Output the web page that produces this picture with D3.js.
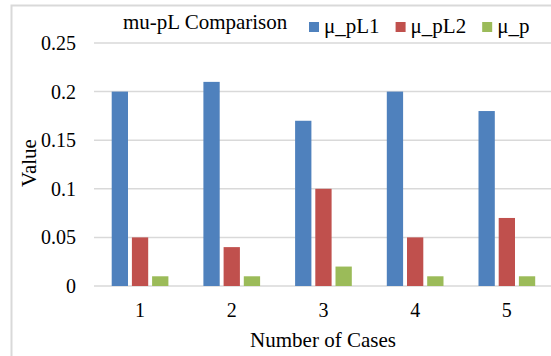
<!DOCTYPE html>
<html>
<head>
<meta charset="utf-8">
<script src="https://cdn.jsdelivr.net/npm/d3@7"></script>
<style>
  body { margin: 0; background: #fff; }
  text { font-family: "Liberation Serif", "Times New Roman", serif; fill: #000; }
</style>
</head>
<body>
<div id="canvas"></div>
<script>
const W = 551, H = 356;

const cases = ["1", "2", "3", "4", "5"];
const seriesNames = ["μ_pL1", "μ_pL2", "μ_p"];
const muPL1 = [0.20, 0.21, 0.17, 0.20, 0.18];
const muPL2 = [0.05, 0.04, 0.10, 0.05, 0.07];
const muP = [0.01, 0.01, 0.02, 0.01, 0.01];
const yTicks = [0, 0.05, 0.1, 0.15, 0.2, 0.25];
const colors = ["#4F81BD", "#C0504D", "#9BBB59"];

const seriesValues = [muPL1, muPL2, muP];

const svg = d3.select("#canvas")
  .append("svg")
  .attr("width", W)
  .attr("height", H);

// chart frame (right and bottom are cut off in the reference)
svg.append("path")
  .attr("d", `M11.5,${H} L11.5,5.5 L${W},5.5`)
  .attr("fill", "none")
  .attr("stroke", "#d9d9d9")
  .attr("stroke-width", 2);

const x = d3.scaleBand()
  .domain(cases)
  .range([94.2, 552.7]);

const xInner = d3.scaleBand()
  .domain(d3.range(seriesNames.length))
  .range([0, 56.7])
  .paddingInner(0.193);

const y = d3.scaleLinear()
  .domain([0, 0.25])
  .range([286, 43]);

// gridlines
svg.append("g")
  .selectAll("line")
  .data(yTicks)
  .enter()
  .append("line")
  .attr("x1", 94)
  .attr("x2", W)
  .attr("y1", d => y(d))
  .attr("y2", d => y(d))
  .attr("stroke", "#d9d9d9")
  .attr("stroke-width", 1.5);

// y tick labels
svg.append("g")
  .selectAll("text")
  .data(yTicks)
  .enter()
  .append("text")
  .attr("x", 76)
  .attr("y", d => y(d))
  .attr("dy", "0.35em")
  .attr("text-anchor", "end")
  .style("font-size", "20px")
  .text(d => d);

// bars
const groups = svg.append("g")
  .selectAll("g")
  .data(cases)
  .enter()
  .append("g")
  .attr("transform", c => `translate(${x(c) + (x.bandwidth() - 56.7) / 2},0)`);

groups.selectAll("rect")
  .data((c, ci) => seriesValues.map((vals, si) => ({ si, v: vals[ci] })))
  .enter()
  .append("rect")
  .attr("x", d => xInner(d.si))
  .attr("width", xInner.bandwidth())
  .attr("y", d => y(d.v))
  .attr("height", d => y(0) - y(d.v))
  .attr("fill", d => colors[d.si]);

// x tick labels
svg.append("g")
  .selectAll("text")
  .data(cases)
  .enter()
  .append("text")
  .attr("x", c => x(c) + x.bandwidth() / 2)
  .attr("y", 317)
  .attr("text-anchor", "middle")
  .style("font-size", "20px")
  .text(c => c);

// axis titles
svg.append("text")
  .attr("x", 323)
  .attr("y", 347)
  .attr("text-anchor", "middle")
  .style("font-size", "21px")
  .text("Number of Cases");

svg.append("text")
  .attr("transform", "translate(36,163) rotate(-90)")
  .attr("text-anchor", "middle")
  .style("font-size", "21px")
  .text("Value");

// title
svg.append("text")
  .attr("x", 123)
  .attr("y", 29)
  .style("font-size", "21px")
  .text("mu-pL Comparison");

// legend
let lx = 309;
seriesNames.forEach((name, i) => {
  svg.append("rect")
    .attr("x", lx)
    .attr("y", 22)
    .attr("width", 10)
    .attr("height", 10)
    .attr("fill", colors[i]);
  const t = svg.append("text")
    .attr("x", lx + 15)
    .attr("y", 33)
    .style("font-size", "21px")
    .text(name);
  lx += 15 + t.node().getComputedTextLength() + 16;
});
</script>
</body>
</html>
